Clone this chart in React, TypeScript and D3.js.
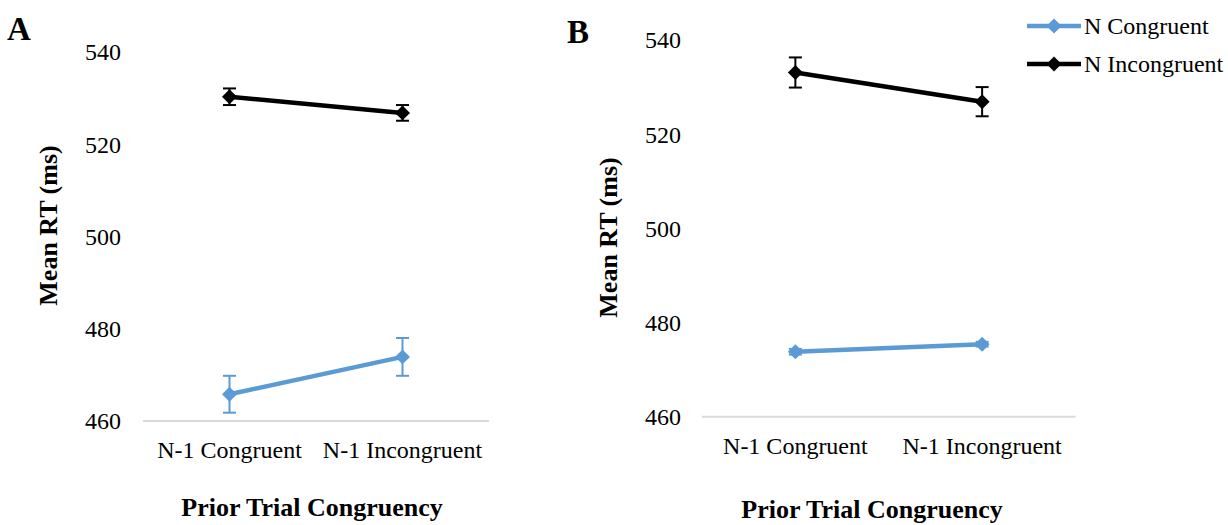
import React from "react";
import * as d3 from "d3";

const categories = ["N-1 Congruent", "N-1 Incongruent"];
const seriesNames = ["N Congruent", "N Incongruent"];
const seriesColors = ["#5b9bd5", "#000000"];
const yTicks = [460, 480, 500, 520, 540];

// panel A
const aCongruent = [465.8, 473.9];
const aCongruentErr = [4.0, 4.1];
const aIncongruent = [530.3, 526.8];
const aIncongruentErr = [1.8, 1.7];

// panel B
const bCongruent = [473.8, 475.4];
const bCongruentErr = [0.6, 0.5];
const bIncongruent = [533.1, 526.9];
const bIncongruentErr = [3.2, 3.1];

const FONT = "'Liberation Serif', 'Times New Roman', serif";

type Series = { name: string; color: string; values: number[]; errors: number[] };

type PanelProps = {
  letter: string;
  offsetX: number;
  plotLeft: number;
  plotRight: number;
  yTop: number;
  yBottom: number;
  letterY: number;
  titleY: number;
  yTitleY: number;
  series: Series[];
  legend: boolean;
};

const diamond = d3.symbol().type(d3.symbolSquare).size(112)();

const Panel = ({ letter, offsetX, plotLeft, plotRight, yTop, yBottom, letterY, titleY, yTitleY, series, legend }: PanelProps) => {
  const x = d3.scaleBand().domain(categories).range([plotLeft, plotRight]).padding(0);
  const cx = (c: string) => (x(c) as number) + x.bandwidth() / 2;
  const y = d3.scaleLinear().domain([460, 540]).range([yBottom, yTop]);
  const line = d3
    .line<number>()
    .x((_, i) => cx(categories[i]))
    .y((d) => y(d));

  return (
    <g transform={`translate(${offsetX},0)`} fontFamily={FONT}>
      <text x={7} y={letterY} fontSize={33} fontWeight="bold">{letter}</text>

      {yTicks.map((t) => (
        <text key={t} x={121} y={y(t)} dy="0.35em" textAnchor="end" fontSize={24}>{t}</text>
      ))}

      <line x1={plotLeft} x2={plotRight} y1={y(460)} y2={y(460)} stroke="#d9d9d9" strokeWidth={2} />

      {categories.map((c) => (
        <text key={c} x={cx(c)} y={y(460) + 37} textAnchor="middle" fontSize={24}>{c}</text>
      ))}

      <text transform={`translate(57,${yTitleY}) rotate(-90)`} textAnchor="middle" fontSize={26} fontWeight="bold">
        Mean RT (ms)
      </text>
      <text x={312} y={titleY} textAnchor="middle" fontSize={26} fontWeight="bold">Prior Trial Congruency</text>

      {series.map((s) => (
        <g key={s.name}>
          {s.values.map((v, i) => {
            const px = cx(categories[i]);
            return (
              <g key={i} stroke={s.color} strokeWidth={2}>
                <line x1={px} x2={px} y1={y(v - s.errors[i])} y2={y(v + s.errors[i])} />
                <line x1={px - 6.5} x2={px + 6.5} y1={y(v - s.errors[i])} y2={y(v - s.errors[i])} />
                <line x1={px - 6.5} x2={px + 6.5} y1={y(v + s.errors[i])} y2={y(v + s.errors[i])} />
              </g>
            );
          })}
          <path d={line(s.values) as string} fill="none" stroke={s.color} strokeWidth={4.5} />
          {s.values.map((v, i) => (
            <path key={i} d={diamond as string} fill={s.color} transform={`translate(${cx(categories[i])},${y(v)}) rotate(45)`} />
          ))}
        </g>
      ))}

      {legend &&
        series.map((s, i) => {
          const ly = 26 + i * 38;
          return (
            <g key={s.name}>
              <line x1={467} x2={521} y1={ly} y2={ly} stroke={s.color} strokeWidth={4.5} />
              <path d={diamond as string} fill={s.color} transform={`translate(494,${ly}) rotate(45)`} />
              <text x={524} y={ly} dy="0.33em" fontSize={24}>{s.name}</text>
            </g>
          );
        })}
    </g>
  );
};

export default function App() {
  const seriesA: Series[] = [
    { name: seriesNames[0], color: seriesColors[0], values: aCongruent, errors: aCongruentErr },
    { name: seriesNames[1], color: seriesColors[1], values: aIncongruent, errors: aIncongruentErr },
  ];
  const seriesB: Series[] = [
    { name: seriesNames[0], color: seriesColors[0], values: bCongruent, errors: bCongruentErr },
    { name: seriesNames[1], color: seriesColors[1], values: bIncongruent, errors: bIncongruentErr },
  ];
  return (
    <svg
      width={1228}
      height={525}
      style={{ position: "absolute", left: 0, top: 0, background: "#fff" }}
    >
      <rect width={1228} height={525} fill="#fff" />
      <Panel letter="A" offsetX={0} plotLeft={143} plotRight={489} yTop={52} yBottom={421}
        letterY={40} titleY={516} yTitleY={225.5} series={seriesA} legend={false} />
      <Panel letter="B" offsetX={560} plotLeft={142} plotRight={515.5} yTop={40} yBottom={416.7}
        letterY={43} titleY={518} yTitleY={237.5} series={seriesB} legend={true} />
    </svg>
  );
}
